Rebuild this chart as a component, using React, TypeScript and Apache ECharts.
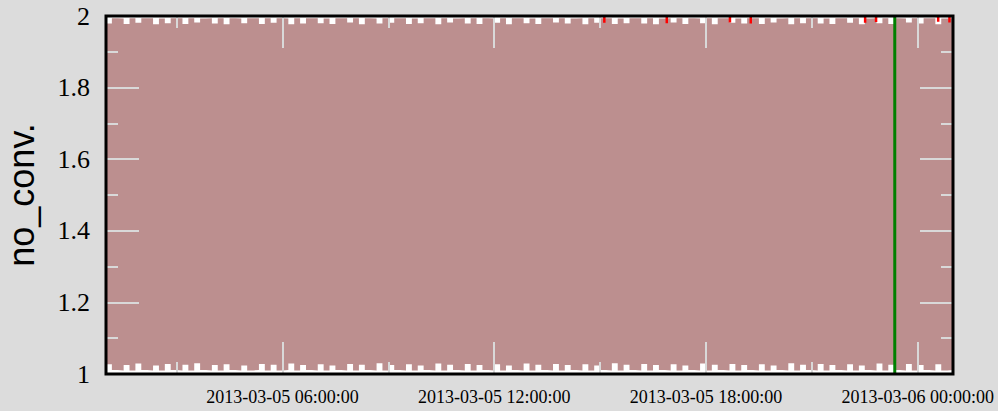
import React, { useEffect, useRef } from 'react';
import * as echarts from 'echarts';

// Hours counted from 2013-03-05 00:00:00
const xMinHour = 1;
const xMaxHour = 25;
const sampleStepHours = 1 / 6; // 10-minute samples
const majorTickHours = [6, 12, 18, 24];
const minorTickHours = [3, 9, 15, 21];
const majorTickLabels = ['2013-03-05 06:00:00', '2013-03-05 12:00:00', '2013-03-05 18:00:00', '2013-03-06 00:00:00'];
const yMin = 1;
const yMax = 2;
const yInterval = 0.2;

// upper envelope of the no_conv trace
const upperEnvelope = [
  1.994, 1.979, 1.994, 1.993, 1.978, 1.994, 1.981, 1.994, 1.994, 1.977, 1.993, 1.980,
  1.994, 1.994, 1.978, 1.994, 1.982, 1.993, 1.994, 1.979, 1.994, 1.977, 1.994, 1.993,
  1.980, 1.994, 1.994, 1.978, 1.994, 1.981, 1.994, 1.993, 1.977, 1.994, 1.979, 1.994,
  1.994, 1.980, 1.993, 1.978, 1.994, 1.994, 1.982, 1.994, 1.977, 1.994, 1.993, 1.979,
  1.994, 1.981, 1.994, 1.994, 1.978, 1.993, 1.980, 1.994, 1.994, 1.977, 1.994, 1.982,
  1.993, 1.994, 1.979, 1.994, 1.978, 1.994, 1.993, 1.981, 1.994, 1.977, 1.994, 1.994,
  1.980, 1.993, 1.978, 1.994, 1.994, 1.982, 1.994, 1.979, 1.993, 1.994, 1.977, 1.994,
  1.981, 1.994, 1.994, 1.978, 1.993, 1.980, 1.994, 1.994, 1.979, 1.994, 1.977, 1.993,
  1.994, 1.982, 1.994, 1.978, 1.994, 1.993, 1.980, 1.994, 1.977, 1.994, 1.994, 1.981,
  1.993, 1.979, 1.994, 1.994, 1.978, 1.994, 1.982, 1.993, 1.994, 1.977, 1.994, 1.980,
  1.994, 1.994, 1.979, 1.993, 1.978, 1.994, 1.994, 1.981, 1.994, 1.977, 1.993, 1.994,
  1.980, 1.994, 1.978, 1.994, 1.993, 1.982, 1.994, 1.979, 1.994, 1.994, 1.977, 1.993,
  1.994,
];

// lower envelope of the no_conv trace
const lowerEnvelope = [
  1.010, 1.027, 1.011, 1.010, 1.025, 1.010, 1.029, 1.011, 1.010, 1.024, 1.010, 1.028,
  1.011, 1.010, 1.026, 1.010, 1.030, 1.011, 1.010, 1.025, 1.010, 1.027, 1.011, 1.010,
  1.024, 1.010, 1.011, 1.028, 1.010, 1.026, 1.010, 1.011, 1.029, 1.010, 1.025, 1.011,
  1.010, 1.027, 1.010, 1.024, 1.011, 1.010, 1.028, 1.010, 1.026, 1.011, 1.010, 1.030,
  1.010, 1.025, 1.011, 1.010, 1.027, 1.010, 1.024, 1.011, 1.010, 1.029, 1.010, 1.026,
  1.011, 1.010, 1.028, 1.010, 1.025, 1.011, 1.010, 1.027, 1.010, 1.024, 1.011, 1.010,
  1.029, 1.010, 1.026, 1.011, 1.010, 1.028, 1.010, 1.025, 1.011, 1.010, 1.027, 1.010,
  1.024, 1.011, 1.010, 1.030, 1.010, 1.026, 1.011, 1.010, 1.028, 1.010, 1.025, 1.011,
  1.010, 1.027, 1.010, 1.024, 1.011, 1.010, 1.029, 1.010, 1.026, 1.011, 1.010, 1.028,
  1.010, 1.025, 1.011, 1.010, 1.027, 1.010, 1.024, 1.011, 1.010, 1.030, 1.010, 1.026,
  1.011, 1.010, 1.028, 1.010, 1.025, 1.011, 1.010, 1.027, 1.010, 1.024, 1.011, 1.010,
  1.029, 1.010, 1.026, 1.011, 1.010, 1.028, 1.010, 1.025, 1.011, 1.010, 1.027, 1.010,
  1.011,
];

// red series: brief dips below 2
const redSpikeHours = [15.12, 16.89, 18.68, 19.27, 22.51, 22.82, 24.58, 24.9];
const redSpikeValues = [1.981, 1.98, 1.982, 1.979, 1.981, 1.983, 1.984, 1.982];

// green marker
const greenHour = 23.35;
const greenValues = [1, 2];

const GRID = { left: 106, top: 16, width: 847, height: 358 };
const TICK_COLOR = '#d9d9d9';

export default function App() {
  const ref = useRef<HTMLDivElement>(null);

  useEffect(() => {
    document.body.style.margin = '0';
    document.body.style.background = '#dcdcdc';
    const chart = echarts.init(ref.current!, null, { renderer: 'svg' });

    const upperData = upperEnvelope.map((v, i) => [xMinHour + i * sampleStepHours, v]);
    const lowerData = lowerEnvelope.map((v, i) => [xMinHour + i * sampleStepHours, v]);
    const redData: any[] = [];
    redSpikeHours.forEach((h, i) => {
      redData.push([h, yMax], [h, redSpikeValues[i]], [h, '-']);
    });
    const greenData = greenValues.map((v) => [greenHour, v]);

    const xBase = {
      type: 'value',
      min: xMinHour,
      max: xMaxHour,
      z: 20,
      axisLine: { show: false },
      splitLine: { show: false },
    };
    const majorTick = {
      show: true,
      inside: true,
      length: 32,
      customValues: majorTickHours,
      lineStyle: { color: TICK_COLOR, width: 2 },
    };
    const minorTickX = {
      show: true,
      inside: true,
      length: 12,
      customValues: minorTickHours,
      lineStyle: { color: TICK_COLOR, width: 2 },
    };
    const yBase = {
      type: 'value',
      min: yMin,
      max: yMax,
      interval: yInterval,
      z: 20,
      axisLine: { show: false },
      splitLine: { show: false },
      axisTick: { show: true, inside: true, length: 33, lineStyle: { color: TICK_COLOR, width: 2 } },
      minorTick: { show: true, splitNumber: 2, length: 12, lineStyle: { color: TICK_COLOR, width: 2 } },
      minorSplitLine: { show: false },
    };

    chart.setOption({
      animation: false,
      backgroundColor: '#dcdcdc',
      grid: {
        ...GRID,
        show: true,
        backgroundColor: '#ffffff',
        borderWidth: 0,
      },
      xAxis: [
        {
          ...xBase,
          position: 'bottom',
          axisTick: majorTick,
          axisLabel: {
            show: true,
            customValues: majorTickHours,
            formatter: (v: number) => majorTickLabels[majorTickHours.indexOf(Math.round(v))] ?? '',
            fontFamily: 'Liberation Serif',
            fontSize: 18,
            color: '#000',
            margin: 14,
          },
        },
        { ...xBase, position: 'bottom', axisTick: minorTickX, axisLabel: { show: false } },
        { ...xBase, position: 'top', axisTick: majorTick, axisLabel: { show: false } },
        { ...xBase, position: 'top', axisTick: minorTickX, axisLabel: { show: false } },
      ],
      yAxis: [
        {
          ...yBase,
          position: 'left',
          axisLabel: {
            show: true,
            fontFamily: 'Liberation Serif',
            fontSize: 26,
            color: '#000',
            margin: 16,
            formatter: (v: number) => String(Math.round(v * 10) / 10),
          },
        },
        { ...yBase, position: 'right', axisLabel: { show: false } },
      ],
      graphic: [
        {
          type: 'rect',
          z: 100,
          shape: { x: GRID.left, y: GRID.top, width: GRID.width, height: GRID.height },
          style: { fill: 'none', stroke: '#000', lineWidth: 3 },
        },
        {
          type: 'text',
          z: 100,
          x: 21,
          y: GRID.top + GRID.height / 2,
          rotation: Math.PI / 2,
          style: {
            text: 'no_conv.',
            fontFamily: 'Liberation Sans',
            fontSize: 36,
            fill: '#000',
            align: 'center',
            verticalAlign: 'middle',
          },
        },
      ],
      series: [
        {
          type: 'line',
          xAxisIndex: 0,
          yAxisIndex: 0,
          step: 'start',
          symbol: 'none',
          data: upperData,
          lineStyle: { width: 0, color: '#bc8f8f' },
          areaStyle: { color: '#bc8f8f', opacity: 1, origin: 'start' },
          z: 2,
        },
        {
          type: 'line',
          xAxisIndex: 0,
          yAxisIndex: 0,
          step: 'start',
          symbol: 'none',
          data: lowerData,
          lineStyle: { width: 0, color: '#ffffff' },
          areaStyle: { color: '#ffffff', opacity: 1, origin: 'start' },
          z: 3,
        },
        {
          type: 'line',
          xAxisIndex: 0,
          yAxisIndex: 0,
          symbol: 'none',
          connectNulls: false,
          data: redData,
          lineStyle: { width: 2.5, color: '#ff0000' },
          z: 4,
        },
        {
          type: 'line',
          xAxisIndex: 0,
          yAxisIndex: 0,
          symbol: 'none',
          data: greenData,
          lineStyle: { width: 3, color: '#008000' },
          z: 5,
        },
      ],
    });

    return () => chart.dispose();
  }, []);

  return <div ref={ref} style={{ width: 998, height: 411 }} />;
}
